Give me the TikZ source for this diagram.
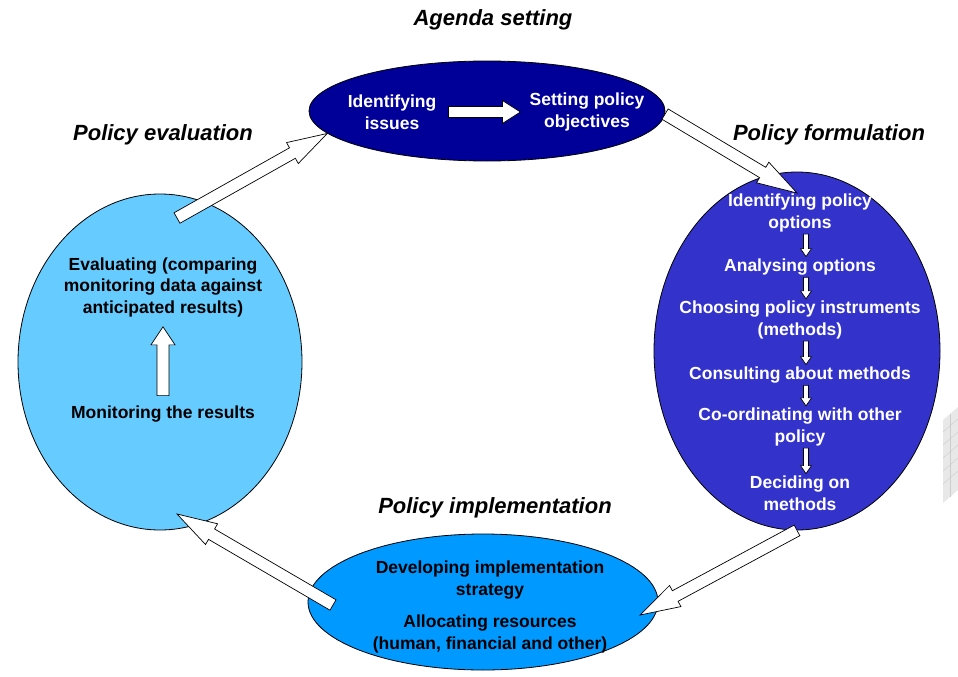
\documentclass[tikz,border=0pt]{standalone}
\usepackage{fontspec}
\setmainfont{Liberation Sans}
\usetikzlibrary{shapes.geometric,calc}

\definecolor{agendablue}{HTML}{000099}
\definecolor{formblue}{HTML}{3333CC}
\definecolor{implblue}{HTML}{0099FF}
\definecolor{evalblue}{HTML}{66CCFF}

\tikzset{
  stage/.style={ellipse, draw=black, line width=0.8pt, inner sep=0pt},
  heading/.style={font=\fontsize{22}{26}\selectfont\bfseries\itshape, inner sep=0pt},
  steptext/.style={font=\fontsize{17.5}{21.5}\selectfont\bfseries, align=center, inner sep=0pt},
}

% hollow block arrow: from, to, shaft half width, head half width, head length
\newcommand{\hollowarrow}[5]{%
  \draw[fill=white, line width=0.7pt] let \p1=(#1), \p2=(#2),
    \n1={atan2(\y2-\y1,\x2-\x1)}, \n2={veclen(\x2-\x1,\y2-\y1)} in
    [shift={(\p1)}, rotate=\n1]
    (0pt,-#3) -- ({\n2-#5},-#3) -- ({\n2-#5},-#4) -- ({\n2},0pt)
    -- ({\n2-#5},#4) -- ({\n2-#5},#3) -- (0pt,#3) -- cycle;}

\begin{document}
\begin{tikzpicture}[x=1pt,y=-1pt]
\useasboundingbox (0,0) rectangle (958,677);

\fill[gray!18] (943,420) -- (958,407) -- (958,490) -- (943,503) -- cycle;
\foreach \yy in {432,445,458,471,484}
  \draw[gray!40, line width=0.4pt] (943,\yy) -- (958,\yy-13);
\draw[gray!40, line width=0.4pt] (950,414) -- (950,497);

\node[stage, fill=agendablue, minimum width=356pt, minimum height=100pt] (agenda) at (487,111) {};
\node[stage, fill=formblue, minimum width=286pt, minimum height=358pt] (formulation) at (797,351) {};
\node[stage, fill=implblue, minimum width=350pt, minimum height=136pt] (implementation) at (483,602) {};
\node[stage, fill=evalblue, minimum width=284pt, minimum height=336pt] (evaluation) at (160,362) {};

\coordinate (evaltail) at (177,218);
\coordinate (formtip) at (797,193);
\coordinate (impltip) at (640,615);
\coordinate (impltail) at (333,605);
\coordinate (evaltip) at (177,514);

\hollowarrow{evaltail}{agenda.188}{6pt}{12pt}{40pt}
\hollowarrow{agenda.359}{formtip}{6pt}{12pt}{40pt}
\hollowarrow{formulation.south}{impltip}{6pt}{12pt}{40pt}
\hollowarrow{impltail}{evaltip}{6pt}{12pt}{40pt}

\node[heading] (agendatitle) at (493,20) {Agenda setting};
\node[heading] (evaltitle) at (163,135) {Policy evaluation};
\node[heading] (formtitle) at (829,135) {Policy formulation};
\node[heading] (impltitle) at (495,508) {Policy implementation};

\node[steptext, text=white] (issues) at (392,112) {Identifying\\issues};
\node[steptext, text=white] (objectives) at (587,112) {Setting policy\\objectives};

\node[steptext, text=white] (options) at (800,213) {Identifying policy\\options};
\node[steptext, text=white] (analysing) at (800,267) {Analysing options};
\node[steptext, text=white] (choosing) at (800,320) {Choosing policy instruments\\(methods)};
\node[steptext, text=white] (consulting) at (800,375) {Consulting about methods};
\node[steptext, text=white] (coordinating) at (800,427) {Co-ordinating with other\\policy};
\node[steptext, text=white] (deciding) at (800,493) {Deciding on\\methods};

\node[steptext] (evaluating) at (163,287) {Evaluating (comparing\\monitoring data against\\anticipated results)};
\node[steptext] (monitoring) at (163,414) {Monitoring the results};

\node[steptext] (strategy) at (490,580) {Developing implementation\\strategy};
\node[steptext] (resources) at (490,634) {Allocating resources\\(human, financial and other)};

\hollowarrow{[xshift=12pt]issues.east}{[xshift=-9pt]objectives.west}{5.5pt}{11.5pt}{18pt}
\hollowarrow{[yshift=10pt]monitoring.north}{[yshift=-10pt]evaluating.south}{6pt}{12pt}{18pt}

\hollowarrow{[xshift=6pt,yshift=-2pt]options.south}{[xshift=6pt,yshift=2pt]analysing.north}{2.5pt}{5.5pt}{8pt}
\hollowarrow{[xshift=6pt,yshift=-2pt]analysing.south}{[xshift=6pt,yshift=2pt]choosing.north}{2.5pt}{5.5pt}{8pt}
\hollowarrow{[xshift=6pt,yshift=-2pt]choosing.south}{[xshift=6pt,yshift=2pt]consulting.north}{2.5pt}{5.5pt}{8pt}
\hollowarrow{[xshift=6pt,yshift=-2pt]consulting.south}{[xshift=6pt,yshift=2pt]coordinating.north}{2.5pt}{5.5pt}{8pt}
\hollowarrow{[xshift=6pt,yshift=-2pt]coordinating.south}{[xshift=6pt,yshift=2pt]deciding.north}{2.5pt}{5.5pt}{8pt}
\end{tikzpicture}
\end{document}
